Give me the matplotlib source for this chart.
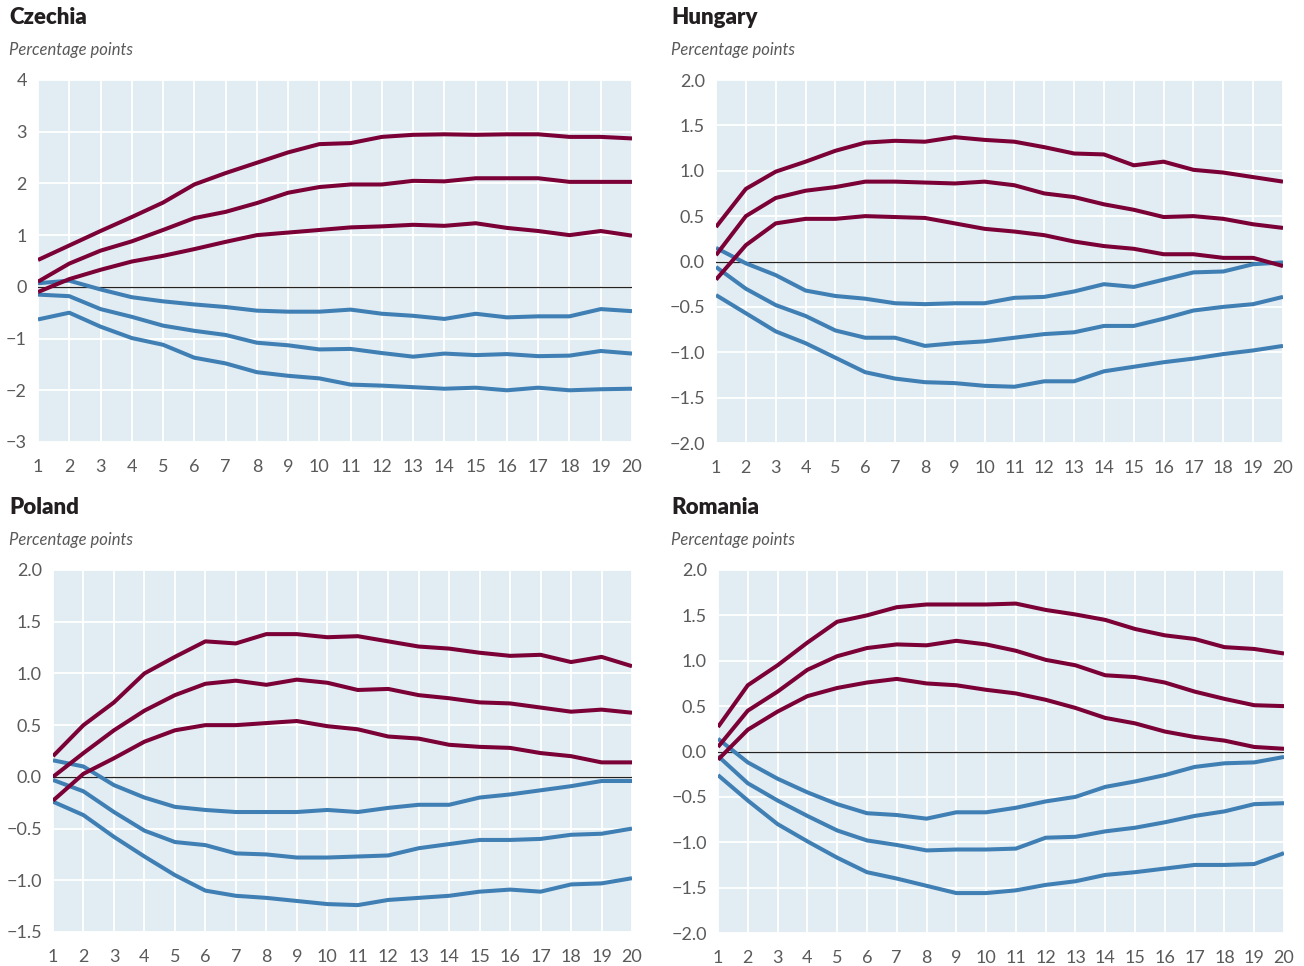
import matplotlib
matplotlib.use("Agg")
import matplotlib.pyplot as plt

plt.rcParams['font.family'] = ['Lato', 'DejaVu Sans']

periods = list(range(1, 21))

# Czechia
cz_red_top = [0.52, 0.80, 1.08, 1.35, 1.63, 1.98, 2.20, 2.40, 2.60, 2.76, 2.78, 2.90, 2.94, 2.95, 2.94, 2.95, 2.95, 2.90, 2.90, 2.87]
cz_red_mid = [0.10, 0.45, 0.70, 0.88, 1.10, 1.33, 1.45, 1.62, 1.82, 1.93, 1.98, 1.98, 2.05, 2.04, 2.10, 2.10, 2.10, 2.03, 2.03, 2.03]
cz_red_low = [-0.10, 0.15, 0.33, 0.49, 0.60, 0.73, 0.87, 1.00, 1.05, 1.10, 1.15, 1.17, 1.20, 1.18, 1.23, 1.14, 1.08, 1.00, 1.08, 0.99]
cz_blue_top = [0.07, 0.12, -0.05, -0.20, -0.28, -0.34, -0.39, -0.46, -0.48, -0.48, -0.44, -0.52, -0.56, -0.62, -0.52, -0.59, -0.57, -0.57, -0.43, -0.47]
cz_blue_mid = [-0.15, -0.18, -0.43, -0.58, -0.75, -0.85, -0.93, -1.08, -1.13, -1.21, -1.20, -1.28, -1.35, -1.29, -1.32, -1.30, -1.34, -1.33, -1.24, -1.29]
cz_blue_low = [-0.63, -0.50, -0.77, -0.99, -1.12, -1.37, -1.48, -1.65, -1.72, -1.77, -1.89, -1.91, -1.94, -1.97, -1.95, -2.00, -1.95, -2.00, -1.98, -1.97]

# Hungary
hu_red_top = [0.38, 0.80, 0.99, 1.10, 1.22, 1.31, 1.33, 1.32, 1.37, 1.34, 1.32, 1.26, 1.19, 1.18, 1.06, 1.10, 1.01, 0.98, 0.93, 0.88]
hu_red_mid = [0.07, 0.50, 0.70, 0.78, 0.82, 0.88, 0.88, 0.87, 0.86, 0.88, 0.84, 0.75, 0.71, 0.63, 0.57, 0.49, 0.50, 0.47, 0.41, 0.37]
hu_red_low = [-0.20, 0.18, 0.42, 0.47, 0.47, 0.50, 0.49, 0.48, 0.42, 0.36, 0.33, 0.29, 0.22, 0.17, 0.14, 0.08, 0.08, 0.04, 0.04, -0.05]
hu_blue_top = [0.15, -0.02, -0.15, -0.32, -0.38, -0.41, -0.46, -0.47, -0.46, -0.46, -0.40, -0.39, -0.33, -0.25, -0.28, -0.20, -0.12, -0.11, -0.03, -0.01]
hu_blue_mid = [-0.06, -0.30, -0.48, -0.60, -0.76, -0.84, -0.84, -0.93, -0.90, -0.88, -0.84, -0.80, -0.78, -0.71, -0.71, -0.63, -0.54, -0.50, -0.47, -0.39]
hu_blue_low = [-0.37, -0.57, -0.77, -0.90, -1.06, -1.22, -1.29, -1.33, -1.34, -1.37, -1.38, -1.32, -1.32, -1.21, -1.16, -1.11, -1.07, -1.02, -0.98, -0.93]

# Poland
pl_red_top = [0.20, 0.50, 0.72, 1.00, 1.16, 1.31, 1.29, 1.38, 1.38, 1.35, 1.36, 1.31, 1.26, 1.24, 1.20, 1.17, 1.18, 1.11, 1.16, 1.07]
pl_red_mid = [0.00, 0.23, 0.45, 0.64, 0.79, 0.90, 0.93, 0.89, 0.94, 0.91, 0.84, 0.85, 0.79, 0.76, 0.72, 0.71, 0.67, 0.63, 0.65, 0.62]
pl_red_low = [-0.23, 0.03, 0.18, 0.34, 0.45, 0.50, 0.50, 0.52, 0.54, 0.49, 0.46, 0.39, 0.37, 0.31, 0.29, 0.28, 0.23, 0.20, 0.14, 0.14]
pl_blue_top = [0.16, 0.10, -0.08, -0.20, -0.29, -0.32, -0.34, -0.34, -0.34, -0.32, -0.34, -0.30, -0.27, -0.27, -0.20, -0.17, -0.13, -0.09, -0.04, -0.04]
pl_blue_mid = [-0.03, -0.14, -0.34, -0.52, -0.63, -0.66, -0.74, -0.75, -0.78, -0.78, -0.77, -0.76, -0.69, -0.65, -0.61, -0.61, -0.60, -0.56, -0.55, -0.50]
pl_blue_low = [-0.24, -0.37, -0.58, -0.77, -0.95, -1.10, -1.15, -1.17, -1.20, -1.23, -1.24, -1.19, -1.17, -1.15, -1.11, -1.09, -1.11, -1.04, -1.03, -0.98]

# Romania
ro_red_top = [0.27, 0.73, 0.95, 1.20, 1.43, 1.50, 1.59, 1.62, 1.62, 1.62, 1.63, 1.56, 1.51, 1.45, 1.35, 1.28, 1.24, 1.15, 1.13, 1.08]
ro_red_mid = [0.05, 0.45, 0.66, 0.90, 1.05, 1.14, 1.18, 1.17, 1.22, 1.18, 1.11, 1.01, 0.95, 0.84, 0.82, 0.76, 0.66, 0.58, 0.51, 0.50]
ro_red_low = [-0.09, 0.24, 0.44, 0.61, 0.70, 0.76, 0.80, 0.75, 0.73, 0.68, 0.64, 0.57, 0.48, 0.37, 0.31, 0.22, 0.16, 0.12, 0.05, 0.03]
ro_blue_top = [0.14, -0.12, -0.30, -0.45, -0.58, -0.68, -0.70, -0.74, -0.67, -0.67, -0.62, -0.55, -0.50, -0.39, -0.33, -0.26, -0.17, -0.13, -0.12, -0.06]
ro_blue_mid = [-0.05, -0.35, -0.54, -0.71, -0.87, -0.98, -1.03, -1.09, -1.08, -1.08, -1.07, -0.95, -0.94, -0.88, -0.84, -0.78, -0.71, -0.66, -0.58, -0.57]
ro_blue_low = [-0.26, -0.54, -0.80, -0.99, -1.17, -1.33, -1.40, -1.48, -1.56, -1.56, -1.53, -1.47, -1.43, -1.36, -1.33, -1.29, -1.25, -1.25, -1.24, -1.12]

RED = '#7a0036'
BLUE = '#3f7fb4'
BG = '#e1ecf3'
TXT = '#5a5a5a'

panels = [
    dict(name='Czechia', pos=[38, 80, 632, 442], ylim=(-3, 4), yticks=[-3, -2, -1, 0, 1, 2, 3, 4], fmt='{:.0f}',
         reds=[cz_red_top, cz_red_mid, cz_red_low], blues=[cz_blue_top, cz_blue_mid, cz_blue_low], tx=9, ty=18),
    dict(name='Hungary', pos=[716, 80, 1283, 443], ylim=(-2, 2), yticks=[-2, -1.5, -1, -0.5, 0, 0.5, 1, 1.5, 2], fmt='{:.1f}',
         reds=[hu_red_top, hu_red_mid, hu_red_low], blues=[hu_blue_top, hu_blue_mid, hu_blue_low], tx=671, ty=18),
    dict(name='Poland', pos=[53, 570, 632, 932], ylim=(-1.5, 2), yticks=[-1.5, -1, -0.5, 0, 0.5, 1, 1.5, 2], fmt='{:.1f}',
         reds=[pl_red_top, pl_red_mid, pl_red_low], blues=[pl_blue_top, pl_blue_mid, pl_blue_low], tx=9, ty=508),
    dict(name='Romania', pos=[718, 570, 1284, 933], ylim=(-2, 2), yticks=[-2, -1.5, -1, -0.5, 0, 0.5, 1, 1.5, 2], fmt='{:.1f}',
         reds=[ro_red_top, ro_red_mid, ro_red_low], blues=[ro_blue_top, ro_blue_mid, ro_blue_low], tx=671, ty=508),
]

W, H = 1304, 966
fig = plt.figure(figsize=(W / 100, H / 100), dpi=100)
fig.patch.set_facecolor('white')

def fmt_label(v, f):
    s = f.format(v)
    return s.replace('-', '\u2212')

for p in panels:
    x0, y0, x1, y1 = p['pos']
    ax = fig.add_axes([x0 / W, 1 - y1 / H, (x1 - x0) / W, (y1 - y0) / H])
    ax.set_facecolor(BG)
    ax.set_xlim(1, 20)
    ax.set_ylim(*p['ylim'])
    ax.set_xticks(periods)
    ax.set_xticklabels([str(v) for v in periods])
    ax.set_yticks(p['yticks'])
    ax.set_yticklabels([fmt_label(v, p['fmt']) for v in p['yticks']])
    ax.grid(True, color='white', linewidth=1.3)
    ax.set_axisbelow(True)
    for s in ax.spines.values():
        s.set_visible(False)
    ax.tick_params(length=0, labelsize=13, colors=TXT)
    ax.tick_params(axis='x', pad=12)
    ax.tick_params(axis='y', pad=8)
    ax.axhline(0, color='#222222', linewidth=0.9, zorder=2)
    for ser in p['blues']:
        ax.plot(periods, ser, color=BLUE, linewidth=2.9, zorder=3, solid_capstyle='butt')
    for ser in p['reds']:
        ax.plot(periods, ser, color=RED, linewidth=2.9, zorder=4, solid_capstyle='butt')
    fig.text(p['tx'] / W, 1 - p['ty'] / H, p['name'], fontsize=16, fontweight='heavy', color='#231f20', va='center', ha='left')
    fig.text(p['tx'] / W, 1 - (p['ty'] + 32) / H, 'Percentage points', fontsize=12, fontstyle='italic', color=TXT, va='center', ha='left')

fig.savefig('out.png', dpi=100, facecolor='white')
